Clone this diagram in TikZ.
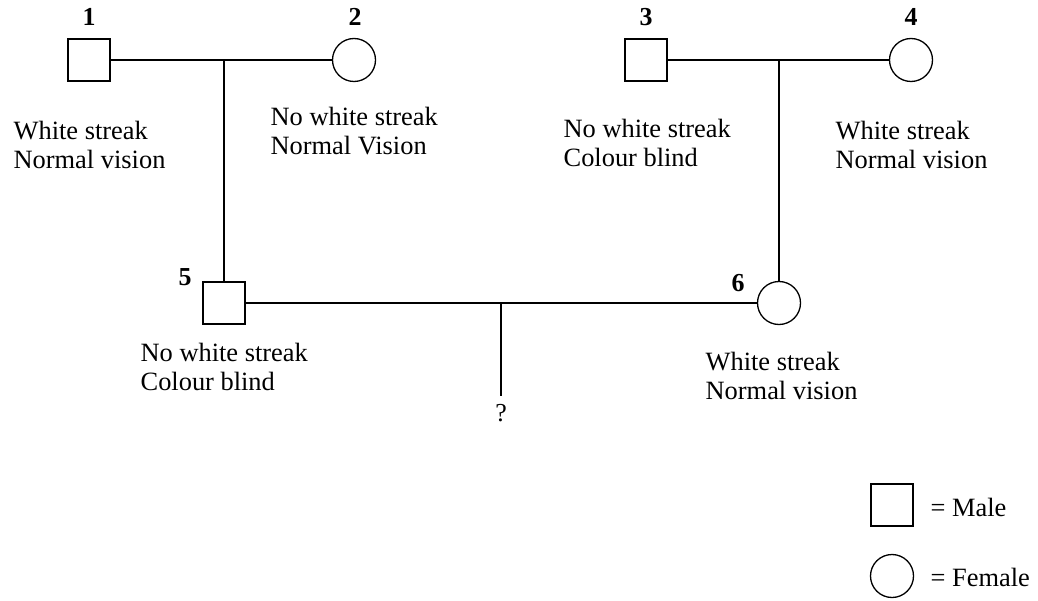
\documentclass[tikz,border=0pt]{standalone}
\usepackage{fontspec}
\setmainfont{Liberation Serif}
\begin{document}
\begin{tikzpicture}[
            x=1bp, y=-1bp,
            male/.style={draw, rectangle, minimum size=42bp, inner sep=0pt, line width=1.3bp},
            female/.style={draw, circle, minimum size=43bp, inner sep=0pt, line width=1.3bp},
            num/.style={font=\fontsize{26}{26}\selectfont\bfseries, inner sep=0pt},
            info/.style={font=\fontsize{26.5}{29.5}\selectfont, align=left, anchor=west, inner sep=0pt},
            every path/.style={line width=1.3bp}
            ]
            \useasboundingbox (0,0) rectangle (1038,601);
            % parents
            \node[male] (p1) at (89, 60) {};
            \node[female] (p2) at (354, 60) {};
            \node[male] (p3) at (646, 60) {};
            \node[female] (p4) at (911, 60) {};
            \node[male, line width=2.4bp] (p5) at (224, 303) {};
            \node[female] (p6) at (779, 303) {};
            % numbers
            \node[num] (n1) at (89, 17) {1};
            \node[num] (n2) at (355, 17) {2};
            \node[num] (n3) at (646, 17) {3};
            \node[num] (n4) at (911, 17) {4};
            \node[num] (n5) at (185, 277) {5};
            \node[num] (n6) at (738, 283) {6};
            % traits
            \node[info] (t1) at (13, 145) {White streak\\Normal vision};
            \node[info] (t2) at (270, 131) {No white streak\\Normal Vision};
            \node[info] (t3) at (563, 143) {No white streak\\Colour blind};
            \node[info] (t4) at (835, 145) {White streak\\Normal vision};
            \node[info] (t5) at (140, 367) {No white streak\\Colour blind};
            \node[info] (t6) at (705, 376) {White streak\\Normal vision};
            \node[font=\fontsize{26}{26}\selectfont, inner sep=0pt] (child) at (501, 413) {?};
            % matings
            \coordinate (m12) at (224, 60);
            \coordinate (m34) at (779, 60);
            \coordinate (m56) at (501, 303);
            \coordinate (c) at (501, 396);
            \draw (p1) -- (p2);
            \draw (p3) -- (p4);
            \draw (p5) -- (p6);
            \draw[line width=2.4bp] (m12) -- (p5);
            \draw (m34) -- (p6);
            \draw (m56) -- (c);
            % key
            \node[male, line width=2.4bp] (lm) at (892, 505) {};
            \node[female] (lf) at (892, 576) {};
            \node[info] (km) at (930, 507) {= Male};
            \node[info] (kf) at (930, 577) {= Female};
        \end{tikzpicture}
\end{document}
